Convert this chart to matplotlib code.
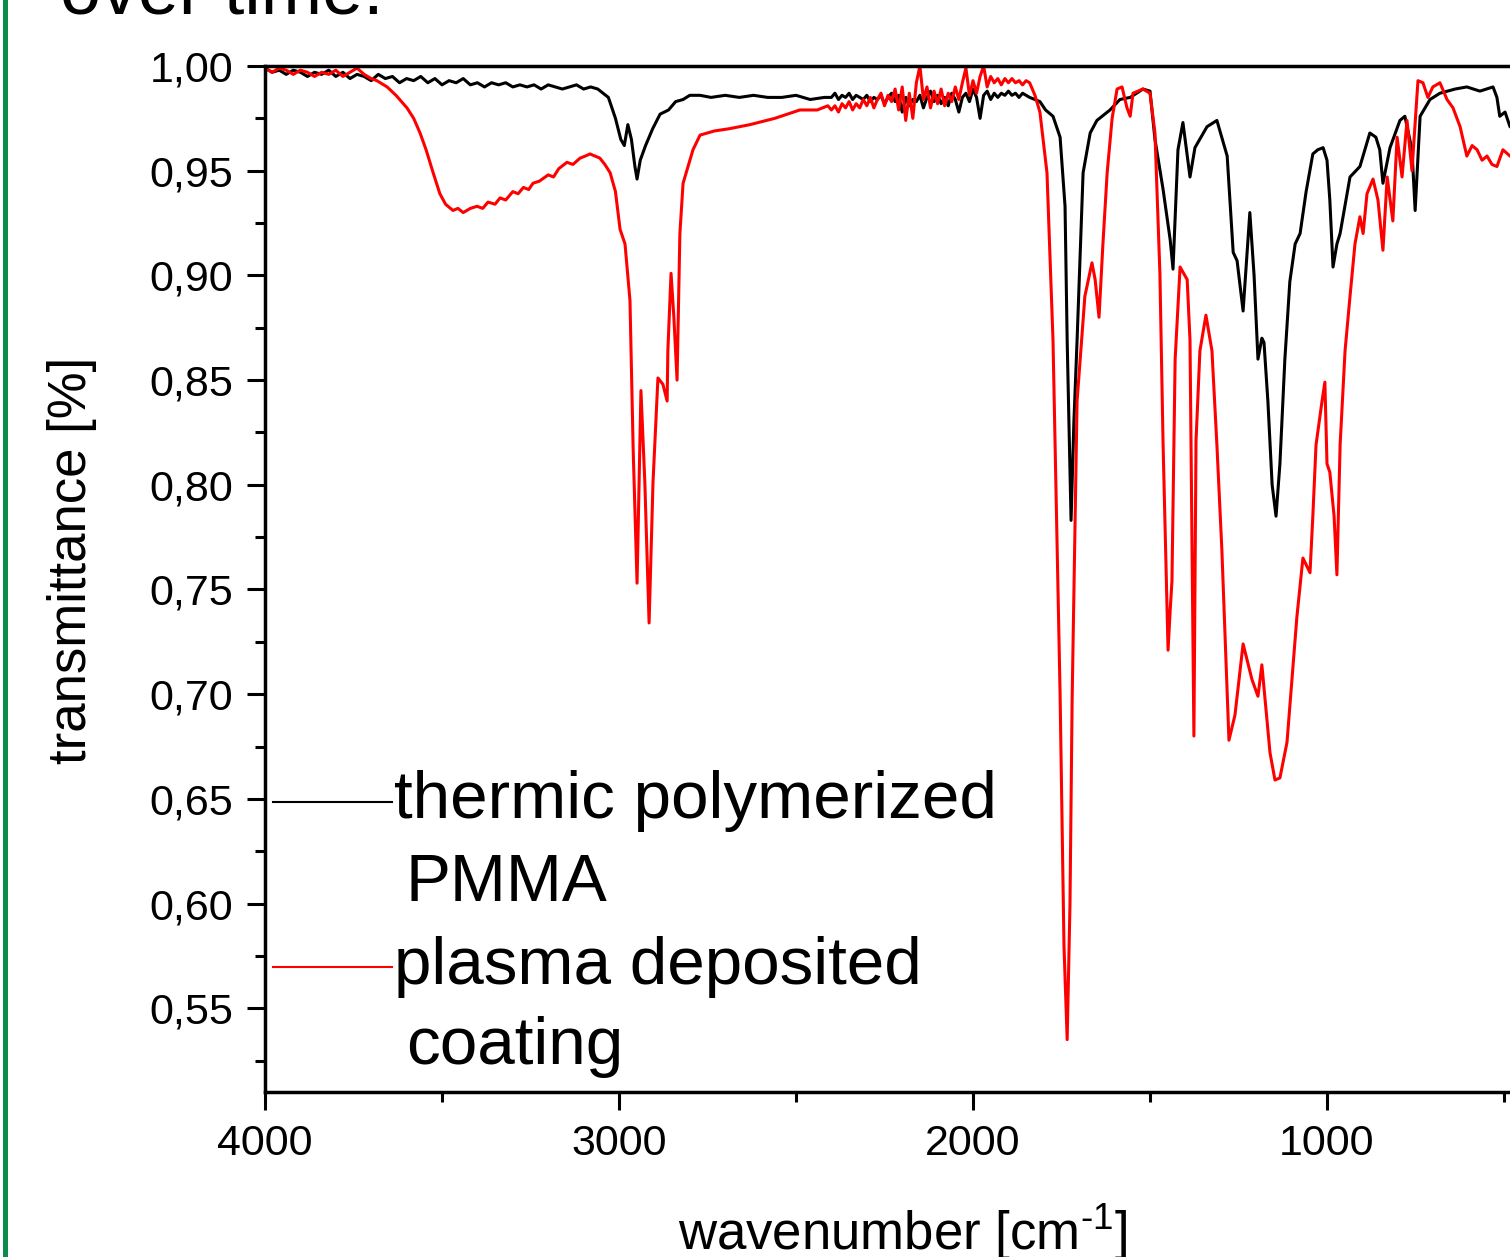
import matplotlib
matplotlib.use('Agg')
import matplotlib.pyplot as plt
from matplotlib.ticker import MultipleLocator, FuncFormatter
from matplotlib.patches import Rectangle

# values (wavenumber in cm-1, transmittance)
pmma_wn = [4000, 3980, 3960, 3940, 3920, 3900, 3880, 3860, 3840, 3820, 3800, 3780, 3760, 3740,
           3720, 3700, 3680, 3660, 3640, 3620, 3600, 3580, 3560, 3540, 3520, 3500, 3480, 3460,
           3440, 3420, 3400, 3380, 3360, 3340, 3320, 3300, 3280, 3260, 3240, 3220, 3200, 3180,
           3160, 3140, 3120, 3100, 3080, 3060,
           3030, 3010, 2995, 2985, 2975, 2965, 2955, 2949, 2940, 2925, 2905, 2884, 2860, 2840,
           2819, 2800, 2771, 2740, 2700, 2660, 2620, 2580, 2540, 2500, 2460, 2420,
           2400, 2390, 2380, 2370, 2360, 2350, 2340, 2330, 2320, 2310, 2300, 2290, 2280, 2270,
           2260, 2250, 2240, 2230, 2220, 2210, 2200, 2190, 2180, 2170, 2160, 2150, 2140, 2130,
           2120, 2110, 2100, 2090, 2080, 2070, 2060, 2050, 2040, 2030, 2020, 2010, 2000, 1990,
           1980, 1970, 1960, 1950, 1940, 1930, 1920, 1910, 1900, 1890, 1880, 1870, 1860, 1850,
           1840,
           1825, 1811, 1795, 1774, 1754, 1740, 1734, 1723, 1715, 1706, 1689, 1669, 1650, 1613,
           1585, 1556, 1520, 1500, 1486, 1463, 1443, 1435, 1421, 1407, 1387, 1373, 1339, 1311,
           1282, 1265, 1254, 1237, 1218, 1206, 1195, 1184, 1178, 1167, 1155, 1144, 1133, 1119,
           1105, 1090, 1076, 1059, 1040, 1026, 1011, 1000, 992, 983, 972, 963, 935, 907,
           879, 862, 851, 842, 822, 794, 780, 760, 751, 737, 709, 681, 638, 605,
           568, 531, 520, 512, 497, 483, 450, 400]
pmma_t = [0.999, 0.997, 0.998, 0.996, 0.998, 0.997, 0.995, 0.997, 0.996, 0.998, 0.995, 0.997, 0.994, 0.996,
          0.995, 0.993, 0.996, 0.994, 0.995, 0.992, 0.994, 0.993, 0.995, 0.992, 0.994, 0.991, 0.993, 0.992,
          0.994, 0.991, 0.992, 0.990, 0.992, 0.991, 0.992, 0.990, 0.991, 0.990, 0.991, 0.989, 0.991, 0.990,
          0.989, 0.990, 0.991, 0.989, 0.990, 0.989,
          0.985, 0.975, 0.965, 0.962, 0.972, 0.965, 0.952, 0.946, 0.955, 0.962, 0.970, 0.977, 0.979, 0.983,
          0.984, 0.986, 0.986, 0.985, 0.986, 0.985, 0.986, 0.985, 0.985, 0.986, 0.984, 0.985,
          0.985, 0.987, 0.984, 0.986, 0.985, 0.987, 0.984, 0.986, 0.985, 0.984, 0.986, 0.983, 0.985, 0.984,
          0.986, 0.982, 0.985, 0.987, 0.983, 0.986, 0.978, 0.985, 0.981, 0.984, 0.983, 0.986, 0.980, 0.985,
          0.988, 0.983, 0.986, 0.982, 0.985, 0.981, 0.987, 0.984, 0.978, 0.985, 0.987, 0.983, 0.989, 0.985,
          0.975, 0.986, 0.988, 0.984, 0.987, 0.985, 0.987, 0.986, 0.988, 0.986, 0.987, 0.985, 0.987, 0.986,
          0.985,
          0.984, 0.983, 0.979, 0.976, 0.966, 0.933, 0.869, 0.783, 0.830, 0.869, 0.949, 0.968, 0.974, 0.979,
          0.984, 0.985, 0.989, 0.988, 0.965, 0.941, 0.917, 0.903, 0.960, 0.973, 0.947, 0.961, 0.971, 0.974,
          0.957, 0.911, 0.907, 0.883, 0.930, 0.900, 0.860, 0.870, 0.868, 0.840, 0.800, 0.785, 0.810, 0.860,
          0.897, 0.915, 0.920, 0.940, 0.958, 0.960, 0.961, 0.955, 0.936, 0.904, 0.915, 0.920, 0.947, 0.952,
          0.968, 0.966, 0.960, 0.944, 0.961, 0.974, 0.976, 0.960, 0.931, 0.976, 0.984, 0.987, 0.989, 0.990,
          0.988, 0.990, 0.985, 0.976, 0.978, 0.971, 0.968, 0.966]

coat_wn = [4000, 3980, 3960, 3940, 3920, 3900, 3880, 3860, 3840, 3820, 3800, 3780, 3760, 3740,
           3720, 3700, 3684, 3655, 3630, 3599, 3580, 3562, 3545, 3525, 3506, 3490, 3469, 3455,
           3440, 3420, 3401, 3385, 3370, 3350, 3336, 3320, 3300, 3285, 3270, 3255, 3243, 3225,
           3200, 3185, 3170, 3147, 3130, 3110, 3095, 3082, 3068, 3054, 3040, 3025, 3010, 2997,
           2983, 2969, 2960, 2949, 2938, 2927, 2915, 2904, 2890, 2876, 2864, 2862, 2853, 2845,
           2836, 2828, 2819, 2791, 2771, 2730, 2690, 2630, 2560, 2489, 2440, 2410,
           2400, 2390, 2380, 2370, 2360, 2350, 2340, 2330, 2320, 2310, 2300, 2290, 2280, 2270,
           2260, 2250, 2240, 2230, 2220, 2210, 2200, 2190, 2180, 2170, 2160, 2150, 2140, 2130,
           2120, 2110, 2100, 2090, 2080, 2070, 2060, 2050, 2040, 2030, 2020, 2010, 2000, 1990,
           1980, 1970, 1960, 1950, 1940, 1930, 1920, 1910, 1900, 1890, 1880, 1870, 1860, 1850,
           1840,
           1825, 1811, 1791, 1774, 1754, 1743, 1734, 1726, 1720, 1706, 1684, 1664, 1655, 1644,
           1633, 1621, 1607, 1593, 1579, 1565, 1556, 1548, 1520, 1500, 1486, 1472, 1463, 1449,
           1443, 1438, 1429, 1415, 1395, 1387, 1376, 1370, 1359, 1342, 1325, 1311, 1297, 1277,
           1260, 1237, 1212, 1195, 1184, 1161, 1147, 1133, 1113, 1085, 1068, 1048, 1040, 1031,
           1014, 1006, 1000, 992, 980, 972, 963, 949, 935, 921, 907, 898, 887, 870,
           856, 842, 830, 814, 802, 788, 774, 760, 743, 729, 715, 701, 681, 661,
           644, 624, 605, 590, 576, 562, 548, 534, 520, 503, 483, 460, 430, 400]
coat_t = [0.999, 0.997, 0.999, 0.998, 0.996, 0.998, 0.997, 0.995, 0.997, 0.996, 0.998, 0.995, 0.997, 0.999,
          0.996, 0.994, 0.993, 0.990, 0.986, 0.980, 0.975, 0.968, 0.960, 0.949, 0.939, 0.934, 0.931, 0.932,
          0.930, 0.932, 0.933, 0.932, 0.935, 0.934, 0.937, 0.936, 0.940, 0.939, 0.942, 0.941, 0.944, 0.945,
          0.948, 0.947, 0.951, 0.954, 0.953, 0.956, 0.957, 0.958, 0.957, 0.956, 0.953, 0.949, 0.940, 0.922,
          0.915, 0.888, 0.817, 0.753, 0.845, 0.801, 0.734, 0.801, 0.851, 0.848, 0.840, 0.864, 0.901, 0.880,
          0.850, 0.920, 0.944, 0.960, 0.967, 0.969, 0.970, 0.972, 0.975, 0.979, 0.979, 0.981,
          0.979, 0.981, 0.978, 0.982, 0.980, 0.983, 0.979, 0.982, 0.980, 0.984, 0.981, 0.985, 0.980, 0.984,
          0.987, 0.981, 0.986, 0.983, 0.989, 0.979, 0.990, 0.974, 0.987, 0.975, 0.992, 1.000, 0.984, 0.990,
          0.980, 0.988, 0.982, 0.989, 0.981, 0.987, 0.983, 0.990, 0.984, 0.992, 0.999, 0.986, 0.993, 0.987,
          0.995, 1.000, 0.990, 0.995, 0.992, 0.994, 0.991, 0.994, 0.992, 0.994, 0.992, 0.993, 0.991, 0.993,
          0.992,
          0.986, 0.978, 0.949, 0.869, 0.700, 0.580, 0.535, 0.600, 0.697, 0.840, 0.890, 0.906, 0.898, 0.880,
          0.915, 0.949, 0.975, 0.989, 0.990, 0.980, 0.976, 0.987, 0.989, 0.987, 0.968, 0.901, 0.819, 0.721,
          0.740, 0.754, 0.860, 0.904, 0.898, 0.869, 0.680, 0.821, 0.864, 0.881, 0.864, 0.819, 0.769, 0.678,
          0.690, 0.724, 0.707, 0.699, 0.714, 0.672, 0.659, 0.660, 0.677, 0.737, 0.765, 0.758, 0.785, 0.819,
          0.840, 0.849, 0.810, 0.806, 0.785, 0.757, 0.819, 0.864, 0.890, 0.915, 0.928, 0.920, 0.939, 0.946,
          0.936, 0.912, 0.947, 0.926, 0.966, 0.947, 0.974, 0.950, 0.993, 0.992, 0.985, 0.990, 0.992, 0.984,
          0.980, 0.971, 0.957, 0.962, 0.960, 0.955, 0.957, 0.953, 0.952, 0.960, 0.957, 0.955, 0.958, 0.956]

plt.rcParams['font.family'] = ['Liberation Sans', 'DejaVu Sans']
plt.rcParams['mathtext.fontset'] = 'custom'
plt.rcParams['mathtext.rm'] = 'Liberation Sans'

fig = plt.figure(figsize=(15.10, 12.57), dpi=100)
ax = fig.add_axes([265 / 1510, 165 / 1257, 1274.4 / 1510, 1026 / 1257])

ax.plot(pmma_wn, pmma_t, color='black', lw=2.2)
ax.plot(coat_wn, coat_t, color='#ff0000', lw=2.2)

ax.set_xlim(4000, 400)
ax.set_ylim(0.51, 1.00)

ax.xaxis.set_major_locator(MultipleLocator(1000))
ax.xaxis.set_minor_locator(MultipleLocator(500))
ax.yaxis.set_major_locator(MultipleLocator(0.05))
ax.yaxis.set_minor_locator(MultipleLocator(0.025))
ax.yaxis.set_major_formatter(FuncFormatter(lambda v, p: f'{v:.2f}'.replace('.', ',')))

ax.tick_params(which='both', direction='out', width=2.2, top=False, right=False)
ax.tick_params(which='major', length=13, labelsize=31)
ax.tick_params(which='minor', length=7)
ax.tick_params(axis='y', pad=10)
ax.tick_params(axis='x', pad=10)
for s in ax.spines.values():
    s.set_linewidth(2.5)

ax.set_ylabel('transmittance [%]', fontsize=38)
ax.yaxis.set_label_coords(-0.132, 0.5185)
ax.set_xlabel(r'wavenumber [cm$^{\text{-}\mathregular{1}}$]', fontsize=38)
ax.xaxis.set_label_coords(0.5, -0.107)

# legend drawn by hand, as in the original
ax.plot([0.006, 0.1], [0.2827, 0.2827], transform=ax.transAxes, color='black', lw=1.5)
ax.plot([0.006, 0.1], [0.1218, 0.1218], transform=ax.transAxes, color='#ff0000', lw=1.5)
ax.text(0.101, 0.2671, 'thermic polymerized', transform=ax.transAxes, fontsize=48.5, va='baseline')
ax.text(0.1106, 0.1862, 'PMMA', transform=ax.transAxes, fontsize=48.5, va='baseline')
ax.text(0.101, 0.1053, 'plasma deposited', transform=ax.transAxes, fontsize=48.5, va='baseline')
ax.text(0.1106, 0.0273, 'coating', transform=ax.transAxes, fontsize=48.5, va='baseline')

fig.text(60 / 1510, 1 - 13 / 1257, 'over time.', fontsize=53, va='baseline', ha='left')
fig.add_artist(Rectangle((3 / 1510, 0), 5 / 1510, 1, transform=fig.transFigure,
                         color='#0b8c4c', lw=0))

fig.savefig('out.png', dpi=100)
